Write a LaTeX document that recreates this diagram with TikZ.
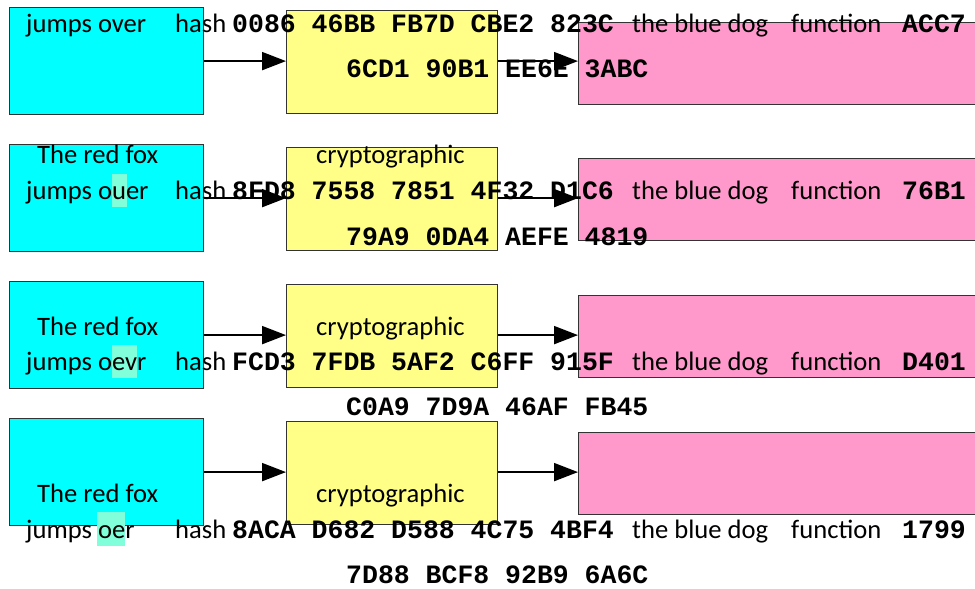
\documentclass[tikz,border=0pt]{standalone}
\usepackage{fontspec}
\setmainfont{Carlito}
\newfontfamily\hexfont{Liberation Mono}
\usetikzlibrary{arrows.meta}
\definecolor{boxcyan}{HTML}{00FFFF}
\definecolor{boxyellow}{HTML}{FFFF88}
\definecolor{boxpink}{HTML}{FF99CC}
\definecolor{hlcolor}{HTML}{80FFDA}
\definecolor{edgegray}{HTML}{333333}
\begin{document}
\begin{tikzpicture}[x=1pt,y=-1pt,
  boxbase/.style={draw=edgegray, line width=1.2pt, inner sep=0pt, anchor=north west},
  inbox/.style={boxbase, fill=boxcyan, minimum width=194pt, minimum height=107pt},
  hashbox/.style={boxbase, fill=boxyellow, minimum width=211pt, minimum height=103pt},
  outbox/.style={boxbase, fill=boxpink, minimum width=420pt, minimum height=82pt},
  conn/.style={line width=2pt, -{Triangle[length=24pt,width=18pt]}},
  txt/.style={inner sep=0pt, anchor=base west, font=\fontsize{26.6}{26.6}\selectfont},
  hex/.style={inner sep=0pt, anchor=base west, font=\fontsize{26.5}{26.5}\selectfont\hexfont\bfseries},
  hl/.style={fill=hlcolor}]
\useasboundingbox (0,0) rectangle (975,589);
\clip (0,0) rectangle (975,589);
% boxes
\node[inbox]   (c1) at (9,7) {};
\node[hashbox] (y1) at (286,10) {};
\node[outbox]  (p1) at (578,21.5) {};
\node[inbox]   (c2) at (9,144) {};
\node[hashbox] (y2) at (286,147) {};
\node[outbox]  (p2) at (578,158) {};
\node[inbox]   (c3) at (9,281) {};
\node[hashbox] (y3) at (286,284) {};
\node[outbox]  (p3) at (578,295) {};
\node[inbox]   (c4) at (9,418) {};
\node[hashbox] (y4) at (286,421) {};
\node[outbox]  (p4) at (578,432) {};
% highlights
\fill[hl] (112,174) rectangle (127,207);
\fill[hl] (112,345) rectangle (137,378);
\fill[hl] (97,512) rectangle (125,546);
% connectors
\draw[conn] (c1.east) -- (c1.east -| y1.west);
\draw[conn] (c1.east -| y1.east) -- (c1.east -| p1.west);
\draw[conn] (c2.east) -- (c2.east -| y2.west);
\draw[conn] (c2.east -| y2.east) -- (c2.east -| p2.west);
\draw[conn] (c3.east) -- (c3.east -| y3.west);
\draw[conn] (c3.east -| y3.east) -- (c3.east -| p3.west);
\draw[conn] (c4.east) -- (c4.east -| y4.west);
\draw[conn] (c4.east -| y4.east) -- (c4.east -| p4.west);
% row 1 text
\node[txt] (t1a) at (26,32) {jumps over};
\node[txt] (t1h) at (175,32) {hash};
\node[hex] (t1x) at (232,32) {0086 46BB FB7D CBE2 823C};
\node[txt] (t1d) at (632,32) {the blue dog};
\node[txt] (t1f) at (791,32) {function};
\node[hex] (t1z) at (902,32) {ACC7};
\node[hex] (t1y) at (346,77) {6CD1 90B1 EE6E 3ABC};
% row 2 text
\node[txt] (t2r) at (37,163) {The red fox};
\node[txt] (t2c) at (316,163) {cryptographic};
\node[txt] (t2a) at (26,199) {jumps ouer};
\node[txt] (t2h) at (175,199) {hash};
\node[hex] (t2x) at (232,199) {8FD8 7558 7851 4F32 D1C6};
\node[txt] (t2d) at (632,199) {the blue dog};
\node[txt] (t2f) at (791,199) {function};
\node[hex] (t2z) at (902,199) {76B1};
\node[hex] (t2y) at (346,245.5) {79A9 0DA4 AEFE 4819};
% row 3 text
\node[txt] (t3r) at (37,335.5) {The red fox};
\node[txt] (t3c) at (316,335.5) {cryptographic};
\node[txt] (t3a) at (26,370.5) {jumps oevr};
\node[txt] (t3h) at (175,370.5) {hash};
\node[hex] (t3x) at (232,370.5) {FCD3 7FDB 5AF2 C6FF 915F};
\node[txt] (t3d) at (632,370.5) {the blue dog};
\node[txt] (t3f) at (791,370.5) {function};
\node[hex] (t3z) at (902,370.5) {D401};
\node[hex] (t3y) at (346,415) {C0A9 7D9A 46AF FB45};
% row 4 text
\node[txt] (t4r) at (37,502) {The red fox};
\node[txt] (t4c) at (316,502) {cryptographic};
\node[txt] (t4a) at (26,538) {jumps oer};
\node[txt] (t4h) at (175,538) {hash};
\node[hex] (t4x) at (232,538) {8ACA D682 D588 4C75 4BF4};
\node[txt] (t4d) at (632,538) {the blue dog};
\node[txt] (t4f) at (791,538) {function};
\node[hex] (t4z) at (902,538) {1799};
\node[hex] (t4y) at (346,583) {7D88 BCF8 92B9 6A6C};
\end{tikzpicture}
\end{document}
